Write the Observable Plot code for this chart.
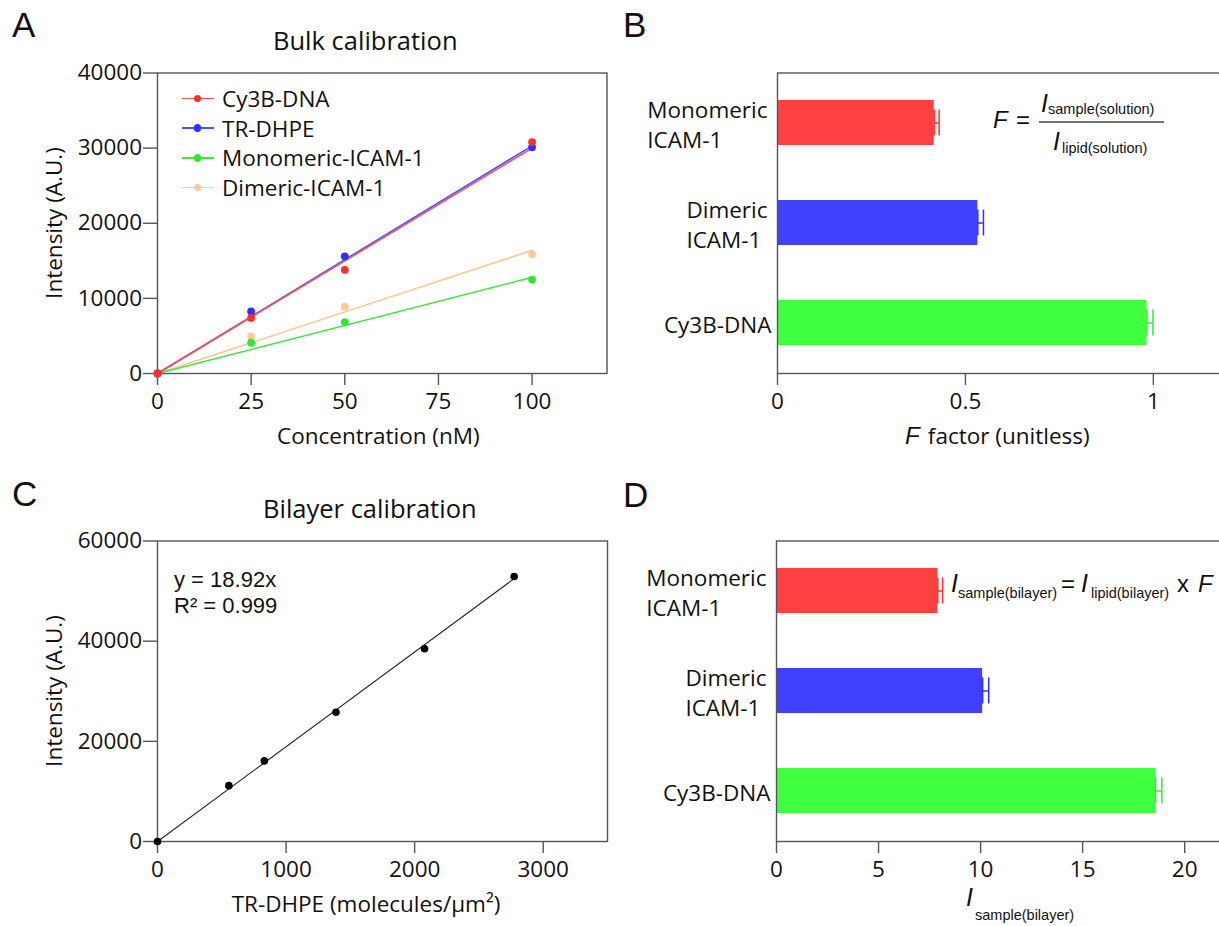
<!DOCTYPE html>
<html><head><meta charset="utf-8">
<script src="https://cdn.jsdelivr.net/npm/d3@7"></script>
<script src="https://cdn.jsdelivr.net/npm/@observablehq/plot@0.6"></script>
<style>
html,body{margin:0;padding:0;background:#fff;overflow:hidden;}
#fig{position:relative;width:1219px;height:926px;overflow:hidden;background:#fff;}
.panel{position:absolute;}
.panel svg{max-width:none !important;background:transparent !important;display:block;}
.sw{position:absolute;}
</style></head><body><div id="fig"></div>
<script>
// ---------- Panel A data: bulk calibration ----------
const concentrations = [0, 25, 50, 100];
const seriesNames = ["Cy3B-DNA", "TR-DHPE", "Monomeric-ICAM-1", "Dimeric-ICAM-1"];
const cy3bDnaIntensity = [0, 7400, 13800, 30800];
const trDhpeIntensity = [0, 8250, 15600, 30100];
const monomericIntensity = [0, 4100, 6850, 12500];
const dimericIntensity = [0, 4950, 8900, 15900];
const fitConcentrations = [0, 100];
const fitStart = [0, 0, 0, 0];
const fitEnd = [30000, 30300, 12800, 16400];
const dotColors = ["#ff2e2e", "#2e2eff", "#2ee82e", "#ffc896"];
const lineColors = ["#ff4d4d", "#5050ff", "#40e640", "#ffc896"];
const xTicksA = [0, 25, 50, 75, 100];
const yTicksA = [0, 10000, 20000, 30000, 40000];

// ---------- Panel C data: bilayer calibration ----------
const bilayerDensity = [0, 555, 831, 1388, 2077, 2774];
const bilayerIntensity = [0, 11150, 16100, 25800, 38500, 52900];
const fitSlopeC = 18.92;
const xTicksC = [0, 1000, 2000, 3000];
const yTicksC = [0, 20000, 40000, 60000];

// ---------- Panels B & D data ----------
const categories = ["Monomeric\nICAM-1", "Dimeric\nICAM-1", "Cy3B-DNA"];
const fFactor = [0.417, 0.533, 0.983];
const fFactorErr = [0.013, 0.015, 0.016];
const iSample = [7.9, 10.1, 18.57];
const iSampleErr = [0.24, 0.3, 0.31];
const barColors = ["#ff4040", "#4040ff", "#40ff40"];
const errColors = ["#ff3030", "#3030ff", "#30ee30"];
const xTicksB = [0, 0.5, 1];
const xTicksD = [0, 5, 10, 15, 20];

const FONT = "'Open Sans', sans-serif";
const MATH = "'Liberation Sans', Arial, sans-serif";
const FS = 22.5;
const AXIS = "#555";
const TEXT = "#111";
const fig = document.getElementById("fig");

function place(svg, left, top) {
  const d = document.createElement("div");
  d.className = "panel";
  d.style.left = left + "px"; d.style.top = top + "px";
  d.appendChild(svg); fig.appendChild(d);
}
const baseStyle = {fontFamily: FONT, fontSize: FS + "px", color: TEXT, background: "transparent", overflow: "visible"};
const num = d => String(d);
const xAxisOpts = {tickFormat: num, tickSize: 12, tickPadding: 8, fontSize: FS, stroke: AXIS, strokeWidth: 1.4, fill: TEXT, label: null};
const yAxisOpts = {tickFormat: num, tickSize: 14, tickPadding: 1.5, fontSize: FS, stroke: AXIS, strokeWidth: 1.4, fill: TEXT, label: null};

// ---------- A ----------
const drawOrder = [3, 2, 1, 0];
const pointsA = [], fitA = [];
const valuesA = [cy3bDnaIntensity, trDhpeIntensity, monomericIntensity, dimericIntensity];
drawOrder.forEach(k => {
  concentrations.forEach((c, j) => pointsA.push({series: seriesNames[k], conc: c, value: valuesA[k][j], color: dotColors[k]}));
  fitA.push({series: seriesNames[k], conc: fitConcentrations[0], value: fitStart[k], color: lineColors[k]});
  fitA.push({series: seriesNames[k], conc: fitConcentrations[1], value: fitEnd[k], color: lineColors[k]});
});
place(Plot.plot({
  width: 620, height: 470,
  marginLeft: 157, marginRight: 13.5, marginTop: 72.5, marginBottom: 97,
  x: {domain: [0, 120]}, y: {domain: [0, 40000]},
  color: {type: "identity"},
  style: baseStyle,
  marks: [
    Plot.frame({stroke: AXIS, strokeWidth: 1.4}),
    Plot.axisX({ticks: xTicksA, ...xAxisOpts}),
    Plot.axisY({ticks: yTicksA, ...yAxisOpts}),
    Plot.line(fitA, {x: "conc", y: "value", z: "series", stroke: "color", strokeWidth: 1.6}),
    Plot.dot(pointsA, {x: "conc", y: "value", fill: "color", r: 3.9})
  ]
}), 0, 0);

// ---------- C ----------
const pointsC = bilayerDensity.map((x, i) => ({density: x, intensity: bilayerIntensity[i]}));
const fitXC = [0, d3.max(bilayerDensity)];
const fitC = fitXC.map(x => ({density: x, intensity: fitSlopeC * x}));
place(Plot.plot({
  width: 620, height: 458,
  marginLeft: 157, marginRight: 13, marginTop: 72.5, marginBottom: 85,
  x: {domain: [0, 3500]}, y: {domain: [0, 60000]},
  style: baseStyle,
  marks: [
    Plot.frame({stroke: AXIS, strokeWidth: 1.4}),
    Plot.axisX({ticks: xTicksC, ...xAxisOpts}),
    Plot.axisY({ticks: yTicksC, ...yAxisOpts}),
    Plot.line(fitC, {x: "density", y: "intensity", stroke: "#222", strokeWidth: 1.1}),
    Plot.dot(pointsC, {x: "density", y: "intensity", fill: "#000", r: 3.8})
  ]
}), 0, 468);

// ---------- B & D ----------
const ctx = document.createElement("canvas").getContext("2d");
ctx.font = FS + "px 'Open Sans'";
const labelWidth = s => Math.max(...s.split("\n").map(l => ctx.measureText(l).width));
const labelGap = [10, 10, 6];
function barPanel(values, errs, domain, ticks, marginLeft, marginRight, height, marginBottom) {
  const rows = categories.map((c, i) => ({cat: c, v: values[i], hi: values[i] + errs[i], fill: barColors[i], err: errColors[i]}));
  return Plot.plot({
    width: 630, height,
    marginLeft, marginRight, marginTop: 72.5, marginBottom,
    x: {domain}, y: {domain: categories, paddingInner: 0.553, paddingOuter: 0.2765, axis: null},
    color: {type: "identity"},
    style: baseStyle,
    marks: [
      Plot.barX(rows, {x: "v", y: "cat", fill: "fill"}),
      Plot.ruleY(rows, {y: "cat", x1: "v", x2: "hi", stroke: "err", strokeWidth: 1.5}),
      Plot.tickX(rows, {x: "hi", y: "cat", stroke: "err", strokeWidth: 1.5, insetTop: 9.5, insetBottom: 9.5}),
      Plot.tickX(rows, {x: "v", y: "cat", stroke: "err", strokeWidth: 1.5, insetTop: 9.5, insetBottom: 9.5}),
      Plot.frame({stroke: AXIS, strokeWidth: 1.4}),
      Plot.axisX({ticks, ...xAxisOpts}),
      ...categories.map((c, i) => Plot.text([c], {
        y: d => d, text: d => d, frameAnchor: "left", textAnchor: "start",
        dx: -(labelWidth(c) + labelGap[i]), lineHeight: 1.36, fontSize: FS, fill: TEXT
      }))
    ]
  });
}
place(barPanel(fFactor, fFactorErr, [0, 1.2], xTicksB, 167, 12, 470, 97), 610, 0);
place(barPanel(iSample, iSampleErr, [0, 22], xTicksD, 166, 15, 458, 85), 610, 468);

// ---------- Legend swatches for A ----------
seriesNames.forEach((s, i) => {
  const base = 107 + 29.7 * i, cy = base - 8.5;
  const ln = document.createElement("div");
  ln.className = "sw";
  Object.assign(ln.style, {left: "181.5px", top: (cy - 0.8) + "px", width: "32px", height: "1.6px", background: lineColors[i]});
  const dt = document.createElement("div");
  dt.className = "sw";
  Object.assign(dt.style, {left: (197.5 - 3.9) + "px", top: (cy - 3.9) + "px", width: "7.8px", height: "7.8px", borderRadius: "50%", background: dotColors[i]});
  fig.appendChild(ln); fig.appendChild(dt);
});

// ---------- Text overlay ----------
const NS = "http://www.w3.org/2000/svg";
const ov = document.createElementNS(NS, "svg");
ov.setAttribute("width", 1219); ov.setAttribute("height", 926);
Object.assign(ov.style, {position: "absolute", left: "0", top: "0", pointerEvents: "none"});
fig.appendChild(ov);
function text(x, y, parts, attrs = {}) {
  const t = document.createElementNS(NS, "text");
  t.setAttribute("x", x); t.setAttribute("y", y);
  t.setAttribute("fill", "#111");
  for (const k in attrs) t.setAttribute(k, attrs[k]);
  for (const p of parts) {
    const s = document.createElementNS(NS, "tspan");
    s.textContent = p.t;
    s.setAttribute("font-family", p.f || FONT);
    s.setAttribute("font-size", p.s || FS);
    if (p.i) s.setAttribute("font-style", "italic");
    if (p.x != null) s.setAttribute("x", p.x);
    if (p.y != null) s.setAttribute("y", p.y);
    t.appendChild(s);
  }
  ov.appendChild(t);
  return t;
}
// panel letters
text(12, 37, [{t: "A", f: MATH, s: 35}]);
text(623, 37, [{t: "B", f: MATH, s: 35}]);
text(12, 506, [{t: "C", f: MATH, s: 35}]);
text(623, 507, [{t: "D", f: MATH, s: 35}]);
// titles
text(273, 50, [{t: "Bulk calibration", s: 25.5}]);
text(263, 518, [{t: "Bilayer calibration", s: 25.5}]);
// axis titles
text(277, 444, [{t: "Concentration (nM)"}]);
text(0, 0, [{t: "Intensity (A.U.)"}], {transform: "translate(62,223) rotate(-90)", "text-anchor": "middle"});
text(0, 0, [{t: "Intensity (A.U.)"}], {transform: "translate(62,691) rotate(-90)", "text-anchor": "middle"});
text(366, 912, [{t: "TR-DHPE (molecules/μm²)"}], {"text-anchor": "middle"});
text(905, 444, [{t: "F", f: MATH, s: 24, i: true}, {t: " factor (unitless)", x: 922}]);
text(966, 906, [{t: "I", f: MATH, s: 25, i: true}, {t: "sample(bilayer)", f: MATH, s: 14.5, x: 975, y: 920}]);
// legend labels
seriesNames.forEach((s, i) => text(222, 107 + 29.7 * i, [{t: s}]));
// C annotation (two lines)
text(174, 587, [{t: "y = 18.92x", f: MATH, s: 22}]);
text(174, 613, [{t: "R² = 0.999", f: MATH, s: 22}]);
// B formula
text(993, 128, [{t: "F", f: MATH, s: 24, i: true}]);
text(1016, 128, [{t: "=", f: MATH, s: 24}]);
text(1041, 111.5, [{t: "I", f: MATH, s: 25, i: true}, {t: "sample(solution)", f: MATH, s: 14.5, x: 1048, y: 114}]);
text(1053, 150, [{t: "I", f: MATH, s: 25, i: true}, {t: "lipid(solution)", f: MATH, s: 14.5, x: 1062, y: 153}]);
const fr = document.createElementNS(NS, "line");
fr.setAttribute("x1", 1039); fr.setAttribute("x2", 1164); fr.setAttribute("y1", 122); fr.setAttribute("y2", 122);
fr.setAttribute("stroke", "#444"); fr.setAttribute("stroke-width", 1.3);
ov.appendChild(fr);
// D formula
text(951, 592, [{t: "I", f: MATH, s: 25, i: true}, {t: "sample(bilayer)", f: MATH, s: 14.5, x: 958, y: 598}]);
text(1061, 592, [{t: "=", f: MATH, s: 24}]);
text(1081, 592, [{t: "I", f: MATH, s: 25, i: true}, {t: "lipid(bilayer)", f: MATH, s: 14.5, x: 1091, y: 598}]);
text(1177, 592, [{t: "x", f: MATH, s: 24}]);
text(1198, 592, [{t: "F", f: MATH, s: 24, i: true}]);
</script></body></html>
